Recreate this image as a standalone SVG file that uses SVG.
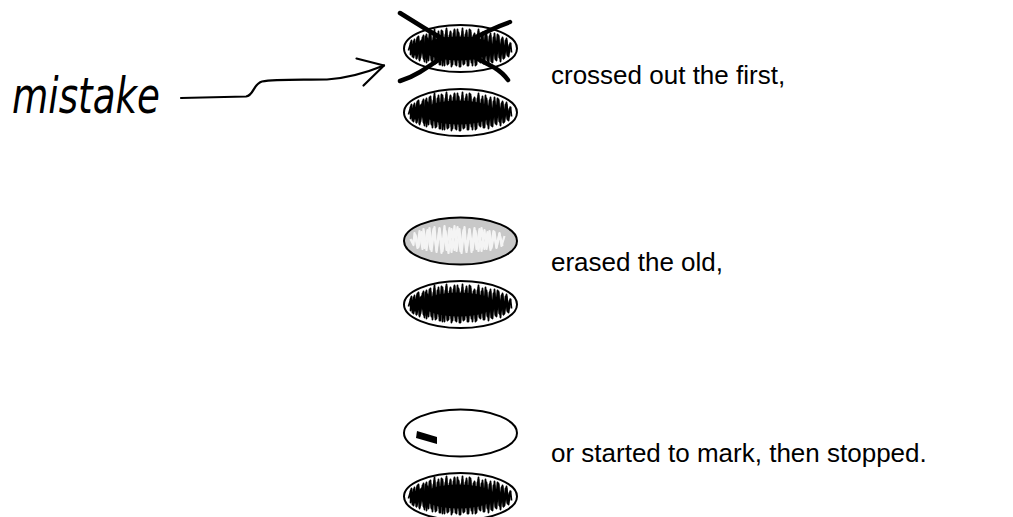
<svg xmlns="http://www.w3.org/2000/svg" xmlns:xlink="http://www.w3.org/1999/xlink" width="1013" height="517" viewBox="0 0 1013 517">
<style>
.oval{fill:#fff;stroke:#000;stroke-width:2}
.grey{fill:#c8c8c8;stroke:#000;stroke-width:2}
.scr{fill:none;stroke:#000;stroke-width:1.8;stroke-linejoin:round}
.lscr{fill:none;stroke:#f4f4f4;stroke-width:2.2;stroke-linejoin:round}
.lbl{font-family:"Liberation Sans",Arial,sans-serif;font-size:26px;fill:#000}
.hand{font-family:"DejaVu Sans",sans-serif;font-style:italic;font-weight:200;font-size:50px;fill:#000}
.cross{fill:none;stroke:#000;stroke-width:4.5;stroke-linecap:round}
.conn{fill:none;stroke:#000;stroke-width:2.2;stroke-linecap:round;stroke-linejoin:round}
</style>
<defs>
<g id="scribble">
<ellipse cx="-2" cy="0" rx="36" ry="12" fill="#000"/>
<path class="scr" d="M-50,-6 L-48,8 L-46,-9 L-44,10 L-42,-12 L-40,9 L-38,-11 L-36,13 L-34,-14 L-32,12 L-30,-13 L-28,15 L-26,-16 L-24,14 L-22,-17 L-20,16 L-18,-15 L-16,17 L-14,-18 L-12,15 L-10,-17 L-8,16 L-6,-18 L-4,17 L-2,-16 L0,18 L2,-17 L4,15 L6,-18 L8,17 L10,-16 L12,17 L14,-15 L16,16 L18,-17 L20,14 L22,-16 L24,15 L26,-14 L28,16 L30,-13 L32,14 L34,-15 L36,12 L38,-12 L40,13 L42,-11 L44,9 L46,-10 L48,8 L50,-6"/>
<path class="scr" d="M-52,2 L-49,-8 L-50,6 L-46,-5 L-47,9 L-43,-11 L-44,10 L-40,-7 L-41,12 L-37,-13 L-36,11 L-33,-10 L-34,14 L-30,-16 L-29,12 L-26,-19 L-25,15 L-22,-14 L-21,16 L-18,-17 L-18,17 L-14,-20 L-13,15 L-10,-16 L-9,18 L-6,-19 L-5,16 L-2,-15 L-1,18 L2,-20 L3,15 L6,-16 L7,17 L10,-18 L11,14 L14,-14 L15,17 L18,-19 L19,13 L22,-13 L23,15 L26,-12 L27,12 L30,-15 L31,13 L34,-11 L35,11 L38,-13 L39,9 L42,-10 L43,10 L46,-8 L47,7 L50,-5 L51,4"/>
<path class="scr" d="M-49,3 L-47,-7 L-45,6 L-43,-10 L-41,11 L-39,-8 L-37,10 L-35,-12 L-33,9 L-31,-15 L-29,11 L-27,-12 L-25,13 L-23,-14 L-21,12 L-19,-18 L-17,13 L-15,-14 L-13,16 L-11,-13 L-9,14 L-7,-15 L-5,13 L-3,-19 L-1,14 L1,-13 L3,16 L5,-14 L7,13 L9,-19 L11,12 L13,-13 L15,14 L17,-14 L19,12 L21,-13 L23,13 L25,-17 L27,11 L29,-12 L31,13 L33,-11 L35,10 L37,-14 L39,9 L41,-9 L43,10 L45,-8 L47,6 L49,-4"/>
</g>
<g id="lightscribble">
<path class="lscr" d="M-48,2 L-45,-6 L-42,6 L-39,-9 L-36,7 L-33,-11 L-30,8 L-27,-12 L-24,9 L-21,-13 L-18,10 L-15,-10 L-12,12 L-9,-12 L-6,9 L-3,-14 L0,10 L3,-11 L6,11 L9,-12 L12,9 L15,-10 L18,10 L21,-13 L24,8 L27,-9 L30,9 L33,-10 L36,7 L39,-7 L42,5"/>
<path class="lscr" d="M-50,-2 L-47,4 L-46,-8 L-43,7 L-41,-10 L-38,8 L-37,-12 L-34,9 L-31,-13 L-29,10 L-26,-14 L-24,11 L-21,-12 L-19,12 L-16,-15 L-14,9 L-11,-13 L-9,11 L-6,-15 L-4,10 L-1,-12 L1,12 L4,-14 L6,9 L9,-11 L11,11 L14,-13 L16,8 L19,-12 L21,10 L24,-11 L26,8 L29,-10 L31,7 L34,-9 L36,6 L39,-8 L41,5 L44,-5"/>
</g>
</defs>

<g id="mistake-label">
<text class="hand" x="12" y="113" textLength="148" lengthAdjust="spacingAndGlyphs">mistake</text>
</g>

<g id="connectors">
<path class="conn" d="M181,98 L246,96.5 C254,95.5 253,84 262,81.5 C275,79 300,80 327,79.5 C350,78 368,72 384,65.5"/>
<path class="conn" d="M356.5,58.5 L384,65.5 L363.5,85.5"/>
</g>

<g id="node-crossed">
<ellipse class="oval" cx="460.5" cy="48.5" rx="56.5" ry="23.5"/>
<use xlink:href="#scribble" x="460.5" y="48.5"/>
<path class="cross" d="M400,13 C430,32 470,55 495,68 Q503,73 508,80"/>
<path class="cross" d="M510,22 C470,36 440,60 420,72 Q410,78 400,81"/>
</g>
<g id="node-marked-1">
<ellipse class="oval" cx="460.5" cy="112.5" rx="56.5" ry="23.5"/>
<use xlink:href="#scribble" x="460.5" y="112.5"/>
</g>
<g id="text-1">
<text class="lbl" x="551" y="84">crossed out the first,</text>
</g>

<g id="node-erased">
<ellipse class="grey" cx="460.5" cy="241" rx="56.5" ry="23.5"/>
<use xlink:href="#lightscribble" x="460.5" y="241"/>
</g>
<g id="node-marked-2">
<ellipse class="oval" cx="460.5" cy="304.5" rx="56.5" ry="23.5"/>
<use xlink:href="#scribble" x="460.5" y="304.5"/>
</g>
<g id="text-2">
<text class="lbl" x="551" y="271">erased the old,</text>
</g>

<g id="node-started">
<ellipse class="oval" cx="460.5" cy="433" rx="56.5" ry="23.5"/>
<polygon points="417,431 437,437 437,444 416,438" fill="#000"/>
</g>
<g id="node-marked-3">
<ellipse class="oval" cx="460.5" cy="496.5" rx="56.5" ry="23.5"/>
<use xlink:href="#scribble" x="460.5" y="496.5"/>
</g>
<g id="text-3">
<text class="lbl" x="551" y="462">or started to mark, then stopped.</text>
</g>
</svg>
